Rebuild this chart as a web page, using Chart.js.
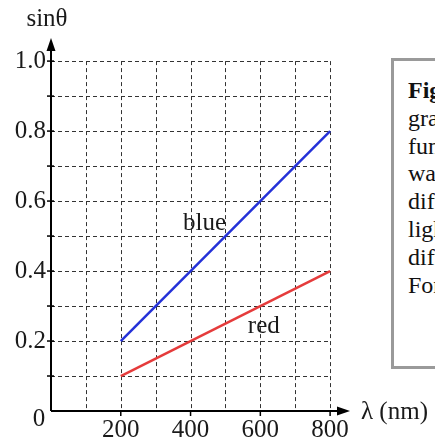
<!DOCTYPE html>
<html>
<head>
<meta charset="utf-8">
<script src="https://cdn.jsdelivr.net/npm/chart.js@4.4.1/dist/chart.umd.min.js"></script>
<style>
  html, body { margin: 0; padding: 0; background: #fff; overflow: hidden; }
  #wrap { position: relative; width: 435px; height: 437px; }
  #note {
    position: absolute; left: 391px; top: 58px; width: 120px; height: 311px;
    border: 3px solid #9a9a9a; box-sizing: border-box; background: #fff;
    font-family: "Liberation Serif", "Times New Roman", serif; font-size: 24px;
    line-height: 27.8px; color: #111; padding: 16px 0 0 14px; white-space: nowrap;
  }
</style>
</head>
<body>
<div id="wrap">
  <canvas id="mycanvas" width="435" height="437"></canvas>
  <div id="note"><b>Figure</b><br>graph<br>function<br>wavelength<br>diffraction<br>light<br>different<br>For</div>
</div>
<script>
var wavelength = [200, 800];
var blueSin = [0.2, 0.8];
var redSin = [0.1, 0.4];
var xTickLabels = [200, 400, 600, 800];
var yTickLabels = ["0.2", "0.4", "0.6", "0.8", "1.0"];

function toPoints(xs, ys) {
  var pts = [];
  for (var i in xs) pts.push({x: xs[i], y: ys[i]});
  return pts;
}

var serif = '"Liberation Serif", "Times New Roman", serif';

// axes, dashed grid and labels drawn off the chart's own scales
var axesPlugin = {
  id: 'axesPlugin',
  beforeDatasetsDraw: function(chart) {
    var ctx = chart.ctx, xs = chart.scales.x, ys = chart.scales.y;
    var x0 = xs.getPixelForValue(0), y0 = ys.getPixelForValue(0);
    var xEnd = xs.getPixelForValue(800), yEnd = ys.getPixelForValue(1.0);
    ctx.save();
    ctx.strokeStyle = '#333';
    ctx.lineWidth = 1;
    ctx.setLineDash([4, 3]);
    for (var v = 100; v <= 800; v += 100) {
      var px = Math.round(xs.getPixelForValue(v)) + 0.5;
      ctx.beginPath(); ctx.moveTo(px, yEnd); ctx.lineTo(px, y0); ctx.stroke();
    }
    for (var k = 1; k <= 10; k++) {
      var py = Math.round(ys.getPixelForValue(k / 10)) + 0.5;
      ctx.beginPath(); ctx.moveTo(x0, py); ctx.lineTo(xEnd, py); ctx.stroke();
    }
    ctx.setLineDash([]);
    ctx.strokeStyle = '#000';
    ctx.lineWidth = 2;
    var right = chart.chartArea.right, top = chart.chartArea.top;
    ctx.beginPath(); ctx.moveTo(x0, y0); ctx.lineTo(right - 8, y0); ctx.stroke();
    ctx.beginPath(); ctx.moveTo(x0, y0); ctx.lineTo(x0, top + 8); ctx.stroke();
    ctx.fillStyle = '#000';
    ctx.beginPath(); ctx.moveTo(right, y0); ctx.lineTo(right - 13, y0 - 4.5); ctx.lineTo(right - 13, y0 + 4.5); ctx.fill();
    ctx.beginPath(); ctx.moveTo(x0, top); ctx.lineTo(x0 - 4.5, top + 13); ctx.lineTo(x0 + 4.5, top + 13); ctx.fill();
    ctx.lineWidth = 1.5;
    for (var j0 in xTickLabels) {
      var tx = xs.getPixelForValue(xTickLabels[j0]);
      ctx.beginPath(); ctx.moveTo(tx, y0); ctx.lineTo(tx, y0 + 5); ctx.stroke();
    }
    for (var k2 = 1; k2 <= 10; k2++) {
      var ty = ys.getPixelForValue(k2 / 10);
      ctx.beginPath(); ctx.moveTo(x0 - 4, ty); ctx.lineTo(x0 + 3, ty); ctx.stroke();
    }
    ctx.fillStyle = '#1a1a1a';
    ctx.font = '25px ' + serif;
    ctx.textBaseline = 'middle';
    ctx.textAlign = 'right';
    for (var i in yTickLabels) {
      ctx.fillText(yTickLabels[i], x0 - 5, ys.getPixelForValue(parseFloat(yTickLabels[i])));
    }
    ctx.textAlign = 'center';
    for (var j in xTickLabels) {
      ctx.fillText(String(xTickLabels[j]), xs.getPixelForValue(xTickLabels[j]), y0 + 19);
    }
    ctx.fillText('0', x0 - 12, y0 + 8);
    ctx.fillText('sin\u03b8', x0 - 4, 19);
    ctx.fillText('blue', xs.getPixelForValue(440), ys.getPixelForValue(0.537));
    ctx.fillText('red', xs.getPixelForValue(610), ys.getPixelForValue(0.243));
    ctx.textAlign = 'left';
    ctx.fillText('\u03bb (nm)', right + 11, y0 + 1);
    ctx.restore();
  }
};

var ctx = document.getElementById('mycanvas');
var lineGraph = new Chart(ctx, {
  type: 'scatter',
  data: {
    datasets: [
      {
        label: 'blue',
        data: toPoints(wavelength, blueSin),
        showLine: true,
        borderColor: '#2431d8',
        borderWidth: 2.5,
        pointRadius: 0
      },
      {
        label: 'red',
        data: toPoints(wavelength, redSin),
        showLine: true,
        borderColor: '#e53b3b',
        borderWidth: 2.5,
        pointRadius: 0
      }
    ]
  },
  options: {
    responsive: false,
    animation: false,
    layout: { padding: { left: 51, right: 85, top: 38, bottom: 26 } },
    plugins: { legend: { display: false }, tooltip: { enabled: false } },
    scales: {
      x: { type: 'linear', min: 0, max: 857, display: false },
      y: { type: 'linear', min: 0, max: 1.066, display: false }
    }
  },
  plugins: [axesPlugin]
});
</script>
</body>
</html>
